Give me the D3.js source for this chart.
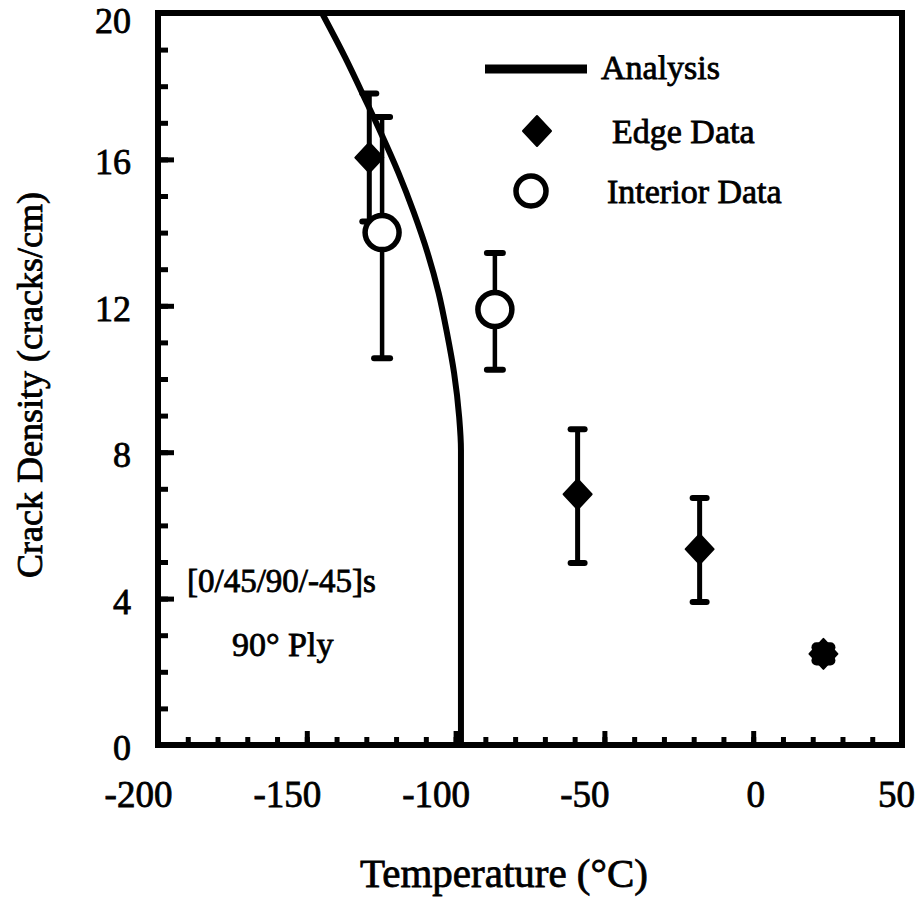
<!DOCTYPE html>
<html>
<head>
<meta charset="utf-8">
<script src="https://cdn.jsdelivr.net/npm/d3@7"></script>
<style>
  body { margin: 0; background: #fff; }
  svg text { font-family: "Liberation Serif", "Times New Roman", serif; fill: #000; stroke: #000; stroke-width: 0.8px; }
  .axis path, .axis line { stroke: #000; }
</style>
</head>
<body>
<svg width="918" height="904"></svg>
<script>
// analysis curve (temperature, crack density)
var analysisTemp = [-144.9, -137.2, -129.8, -125.1, -119.2, -114.0, -109.4, -105.7, -102.9, -100.5, -98.8, -98.2, -98.2];
var analysisDensity = [20, 18.8, 17.54, 16.72, 15.63, 14.54, 13.44, 12.35, 11.26, 10.16, 8.96, 8.06, 0];

// edge data with error bars
var edgeTemp = [-129, -59, -18, 23.6];
var edgeDensity = [16.05, 6.85, 5.35, 2.49];
var edgeLow = [14.3, 4.97, 3.91, 2.31];
var edgeHigh = [17.8, 8.63, 6.75, 2.67];

// interior data with error bars
var interiorTemp = [-124.7, -86.8];
var interiorDensity = [14.0, 11.9];
var interiorLow = [10.57, 10.25];
var interiorHigh = [17.16, 13.44];

var xTicks = [-200, -150, -100, -50, 0, 50];
var yTicks = [0, 4, 8, 12, 16, 20];

var svg = d3.select("svg"),
  margin = { top: 13, right: 16, bottom: 159, left: 158 },
  width = 918 - margin.left - margin.right,
  height = 904 - margin.top - margin.bottom,
  g = svg.append("g").attr("transform", "translate(" + margin.left + "," + margin.top + ")");

var x = d3.scaleLinear().domain([-200, 50]).range([0, width]);
var y = d3.scaleLinear().domain([0, 20]).range([height, 0]);

// minor ticks first, no labels
g.append("g")
  .attr("class", "axis")
  .attr("transform", "translate(0," + height + ")")
  .call(d3.axisBottom(x).tickValues(d3.range(-190, 50, 10)).tickSize(-8).tickFormat(""))
  .call(s => s.select(".domain").remove());

g.append("g")
  .attr("class", "axis")
  .call(d3.axisLeft(y).tickValues(d3.range(1, 20, 1)).tickSize(-10).tickFormat(""))
  .call(s => s.select(".domain").remove());

g.selectAll(".axis line").attr("stroke-width", 5);

// major ticks with labels
var xAxis = g.append("g")
  .attr("class", "axis")
  .attr("transform", "translate(0," + height + ")")
  .call(d3.axisBottom(x).tickValues(xTicks).tickSize(-14).tickPadding(36).tickFormat(d => String(d)))
  .attr("font-family", null);
xAxis.select(".domain").remove();
xAxis.selectAll("line").attr("stroke-width", 5);
xAxis.selectAll("text")
  .attr("font-size", 37)
  .attr("dx", d => d < 0 ? -20 : (d == 50 ? -6 : 2));

var yAxis = g.append("g")
  .attr("class", "axis")
  .call(d3.axisLeft(y).tickValues(yTicks).tickSize(-16).tickPadding(27).tickFormat(d => String(d)))
  .attr("font-family", null);
yAxis.select(".domain").remove();
yAxis.selectAll("line").attr("stroke-width", 5);
yAxis.selectAll("text")
  .attr("font-size", 36)
  .attr("dy", d => d == 20 ? "0.55em" : "0.4em");

// frame
g.append("rect")
  .attr("width", width)
  .attr("height", height)
  .attr("fill", "none")
  .attr("stroke", "#000")
  .attr("stroke-width", 6);

// analysis curve
var line = d3.line()
  .x(i => x(analysisTemp[i]))
  .y(i => y(analysisDensity[i]))
  .curve(d3.curveMonotoneY);

g.append("path")
  .attr("d", line(d3.range(analysisTemp.length)))
  .attr("fill", "none")
  .attr("stroke", "#000")
  .attr("stroke-width", 6);

function errorBars(temps, lows, highs, cap, lw, capW) {
  var eb = g.append("g");
  temps.forEach(function(t, i) {
    eb.append("line")
      .attr("x1", x(t)).attr("x2", x(t))
      .attr("y1", y(lows[i])).attr("y2", y(highs[i]))
      .attr("stroke", "#000").attr("stroke-width", lw);
    [lows[i], highs[i]].forEach(function(v) {
      eb.append("line")
        .attr("x1", x(t) - cap).attr("x2", x(t) + cap)
        .attr("y1", y(v)).attr("y2", y(v))
        .attr("stroke", "#000").attr("stroke-width", capW)
        .attr("stroke-linecap", "round");
    });
  });
}

var diamond = "M0,-15L14,0L0,15L-14,0Z";

errorBars(edgeTemp.slice(0, 3), edgeLow, edgeHigh, 7, 5, 6);
// last edge point has a tiny error bar that reads as a round blob
errorBars(edgeTemp.slice(3), edgeLow.slice(3), edgeHigh.slice(3), 7, 5, 10);
g.selectAll(".edge")
  .data(edgeTemp)
  .enter().append("path")
  .attr("class", "edge")
  .attr("d", diamond)
  .attr("transform", (d, i) => "translate(" + x(d) + "," + y(edgeDensity[i]) + ")")
  .attr("fill", "#000")
  .attr("stroke", "#000")
  .attr("stroke-width", 2)
  .attr("stroke-linejoin", "round");

errorBars(interiorTemp, interiorLow, interiorHigh, 8, 4.5, 6);
g.selectAll(".interior")
  .data(interiorTemp)
  .enter().append("circle")
  .attr("class", "interior")
  .attr("cx", d => x(d))
  .attr("cy", (d, i) => y(interiorDensity[i]))
  .attr("r", 17)
  .attr("fill", "#fff")
  .attr("stroke", "#000")
  .attr("stroke-width", 5.5);

// legend
var legend = svg.append("g");
legend.append("line")
  .attr("x1", 485).attr("x2", 587)
  .attr("y1", 69).attr("y2", 69)
  .attr("stroke", "#000").attr("stroke-width", 9);
legend.append("text").attr("x", 601).attr("y", 67).attr("dy", "0.35em")
  .attr("font-size", 34).text("Analysis");
legend.append("path")
  .attr("d", diamond)
  .attr("transform", "translate(537,131)")
  .attr("fill", "#000").attr("stroke", "#000").attr("stroke-width", 2)
  .attr("stroke-linejoin", "round");
legend.append("text").attr("x", 612).attr("y", 131).attr("dy", "0.35em")
  .attr("font-size", 34).text("Edge Data");
legend.append("circle")
  .attr("cx", 531).attr("cy", 191).attr("r", 15)
  .attr("fill", "#fff").attr("stroke", "#000").attr("stroke-width", 5.5);
legend.append("text").attr("x", 607).attr("y", 191).attr("dy", "0.35em")
  .attr("font-size", 34).text("Interior Data");

// annotations
svg.append("text").attr("x", 187).attr("y", 592)
  .attr("font-size", 33).text("[0/45/90/-45]s");
svg.append("text").attr("x", 232).attr("y", 656)
  .attr("font-size", 34).text("90° Ply");

// axis titles
svg.append("text")
  .attr("x", 504).attr("y", 887)
  .attr("text-anchor", "middle")
  .attr("font-size", 41)
  .text("Temperature (°C)");

svg.append("text")
  .attr("transform", "translate(42,385) rotate(-90)")
  .attr("text-anchor", "middle")
  .attr("font-size", 36)
  .text("Crack Density (cracks/cm)");
</script>
</body>
</html>
